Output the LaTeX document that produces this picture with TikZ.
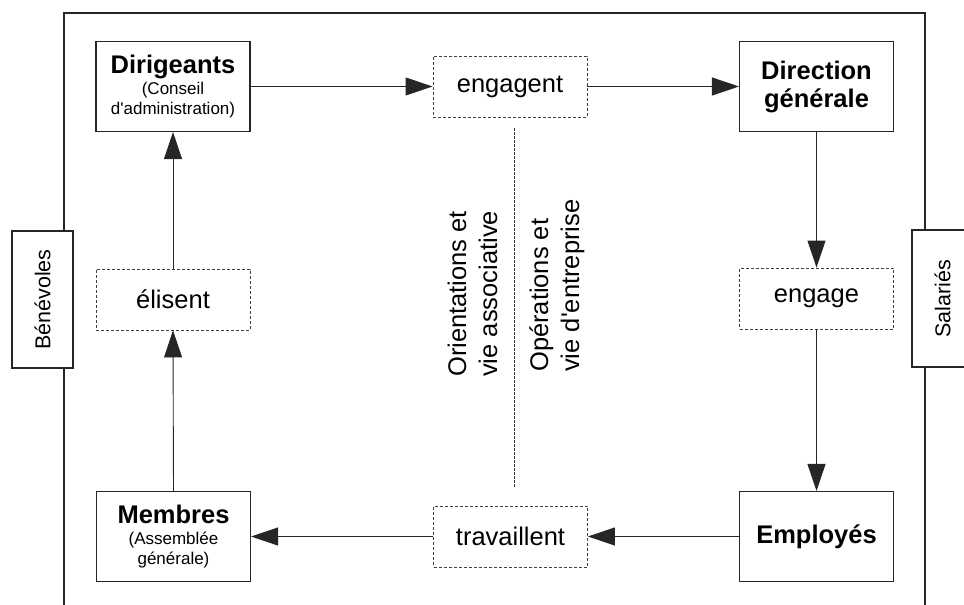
\documentclass[tikz,border=0pt]{standalone}
\usepackage{fontspec}
\setmainfont{Liberation Sans}
\usetikzlibrary{arrows.meta}
\begin{document}
\begin{tikzpicture}[x=1pt,y=-1pt,
  solidbox/.style={draw=black!85, line width=1.1pt, fill=white, minimum width=154pt, minimum height=90pt, inner sep=0pt, align=center},
  dashbox/.style={draw=black!75, line width=0.9pt, dash pattern=on 3pt off 2pt, fill=white, minimum width=154pt, minimum height=61pt, inner sep=0pt, font=\fontsize{25.5}{30}\selectfont},
  sidebox/.style={draw=black!85, line width=1.1pt, fill=white, minimum width=137pt, minimum height=61pt, inner sep=0pt, rotate=90, font=\fontsize{21.5}{26}\selectfont},
  midtext/.style={rotate=90, align=left, inner sep=0pt, anchor=west, font=\fontsize{25.5}{31}\selectfont},
  conn/.style={draw=black!85, line width=0.9pt, -{Triangle[length=27pt,width=18pt]}},
  midline/.style={draw=black!80, line width=0.8pt, dash pattern=on 2.5pt off 1.5pt},
  frame/.style={draw=black!85, line width=1.1pt}
]
\useasboundingbox (0,0) rectangle (964,605);
\clip (0,0) rectangle (964,605);
% frame
\draw[frame] (64,615) -- (64,13) -- (925,13) -- (925,615);
% side labels
\node[sidebox] (ben) at (42.5,299.5) {Bénévoles};
\node[sidebox] (sal) at (942.5,298.5) {Salariés};
% main boxes
\node[solidbox, font=\fontsize{17}{20}\selectfont] (dir) at (173,86.5)
  {{\bfseries\fontsize{25.5}{25}\selectfont Dirigeants}\\[1pt](Conseil\\d\textquotesingle administration)};
\node[solidbox, font=\bfseries\fontsize{25.5}{28}\selectfont] (dg) at (816.5,86.5) {Direction\\générale};
\node[solidbox, font=\fontsize{17}{20}\selectfont] (mem) at (173.5,536.5)
  {{\bfseries\fontsize{25.5}{25}\selectfont Membres}\\[1pt](Assemblée\\générale)};
\node[solidbox, font=\bfseries\fontsize{25.5}{30}\selectfont] (emp) at (816.5,536.5) {Employés};
% dashed boxes
\node[dashbox] (eng) at (510,86.5) {engagent};
\node[dashbox] (enga) at (816.5,298.5) {engage};
\node[dashbox] (eli) at (173,299.5) {élisent};
\node[dashbox] (trav) at (510.5,536.5) {travaillent};
% middle separator and texts
\coordinate (dtop) at (514,128);
\coordinate (dbot) at (514,488);
\draw[midline] (dtop) -- (dbot);
\node[midtext] (ori) at (472.5,377) {Orientations et\\vie associative};
\node[midtext] (ope) at (557,372) {Opérations et\\vie d\textquotesingle entreprise};
% connectors
\draw[conn] (dir.east) -- (eng.west);
\draw[conn] (eng.east) -- (dg.west);
\draw[conn] (dg.south) -- (enga.north);
\draw[conn] (enga.south) -- (emp.north);
\draw[conn] (emp.west) -- (trav.east);
\draw[conn] (trav.west) -- (mem.east);
\draw[conn] (mem.north) -- (eli.south);
\draw[conn] (eli.north) -- (dir.south);
\end{tikzpicture}
\end{document}
